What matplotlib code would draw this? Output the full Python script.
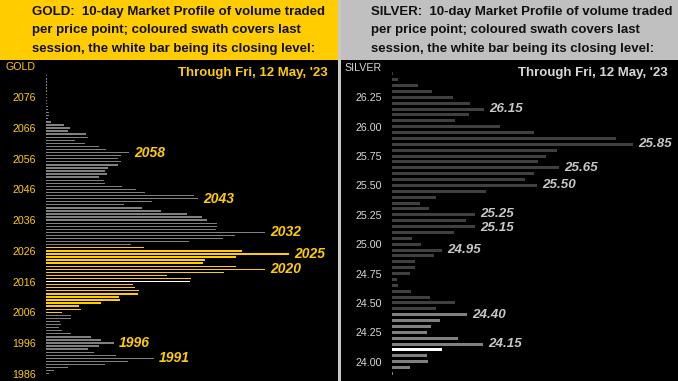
import matplotlib
matplotlib.use("Agg")
import matplotlib.pyplot as plt
from matplotlib.patches import Rectangle

# ---------------- data ----------------
gold_prices = list(range(2083, 1985, -1))
gold_volume = [0.7, 0.7, 0.7, 0.7, 0.7, 0.7, 0.7, 0.7, 0.7, 0.7,      # 2083-2074
               1.7, 2.3, 2.7, 2.7, 1.7, 4.7, 17.7, 23.7, 21.7, 39.7,    # 2073-2064
               41.7, 28.7, 38.7, 52.7, 59.7, 82.7, 74.7, 71.7, 74.7, 72,  # 2063-2054
               61.7, 59, 61, 53, 58, 59, 76, 89.7, 98.7, 147.7,         # 2053-2044
               151.7, 105.7, 78, 95.7, 114.7, 140.7, 156, 160.7, 170.7, 170.7,  # 2043-2034
               169.7, 218.7, 188.7, 176.7, 142.7, 85, 97.7, 195.7, 242.7, 189.7,  # 2033-2024
               158.7, 156.7, 189.7, 218.7, 177.7, 120.7, 144.7, 143.7, 87, 88.7,  # 2023-2014
               92.7, 91.7, 73, 74, 55, 33, 35, 16, 25, 25,               # 2013-2004
               14, 15, 13, 16, 25, 45, 55, 68, 53, 42,                   # 2003-1994
               48, 70, 108, 82, 59, 22, 8, 3]                            # 1993-1986
gold_session = (2006, 2027)
gold_close = 2016
gold_labels = [2058, 2043, 2032, 2025, 2020, 1996, 1991]
gold_ticks = [1986, 1996, 2006, 2016, 2026, 2036, 2046, 2056, 2066, 2076]

silver_prices = [round(26.45 - 0.05 * i, 2) for i in range(52)]
silver_volume = [0.7, 5.7, 25.7, 39.7, 60.7, 77.7, 92, 76.7, 62.7, 107.7,
                 141.7, 223.7, 241, 164.7, 153.7, 145.7, 166.7, 141.7, 132.7, 144.7,
                 93.7, 43.7, 27.7, 36.7, 82.7, 73.7, 82.7, 61.7, 19.7, 28.7,
                 49.7, 41.7, 22.7, 22.7, 17.7, 4.7, 5.7, 18.7, 37.7, 62.7,
                 43.7, 74.7, 47.7, 38.7, 34.7, 65.7, 90.7, 49.7, 34.7, 35.7,
                 17.7, 1]
silver_session = (23.90, 24.40)
silver_close = 24.10
silver_labels = [26.15, 25.85, 25.65, 25.50, 25.25, 25.15, 24.95, 24.40, 24.15]
silver_ticks = [24.00, 24.25, 24.50, 24.75, 25.00, 25.25, 25.50, 25.75, 26.00, 26.25]

title_lines_gold = ["GOLD:  10-day Market Profile of volume traded",
                    "per price point; coloured swath covers last",
                    "session, the white bar being its closing level:"]
title_lines_silver = ["SILVER:  10-day Market Profile of volume traded",
                      "per price point; coloured swath covers last",
                      "session, the white bar being its closing level:"]
through_text = "Through Fri, 12 May, '23"

# ---------------- styling ----------------
W, H = 678, 381
GOLD = "#ffcc00"
SILV_HDR = "#c0c0c0"
FONT = "Liberation Sans"

fig = plt.figure(figsize=(W / 100, H / 100), dpi=100)
fig.patch.set_facecolor("#c8c8c8")


def frac(x, y, w, h):
    return (x / W, 1 - (y + h) / H, w / W, h / H)


def rect(x, y, w, h, color):
    l, b, ww, hh = frac(x, y, w, h)
    fig.patches.append(Rectangle((l, b), ww, hh, transform=fig.transFigure,
                                 facecolor=color, edgecolor="none", zorder=-5))


# panels
rect(0, 0, 338, 60, GOLD)
rect(0, 60, 338, 321, "black")
rect(341, 0, 337, 60, SILV_HDR)
rect(341, 60, 337, 321, "black")

# titles
for i, line in enumerate(title_lines_gold):
    fig.text(32 / W, 1 - (11.7 + 18.7 * i) / H, line, fontsize=9.5, fontweight="bold",
             family=FONT, color="#111111", va="center", ha="left")
for i, line in enumerate(title_lines_silver):
    fig.text(371 / W, 1 - (11.7 + 18.7 * i) / H, line, fontsize=9.5, fontweight="bold",
             family=FONT, color="#111111", va="center", ha="left")


def make_axes(x0, x1, ylim):
    ax = fig.add_axes(frac(x0, 60, x1 - x0, 321))
    ax.set_facecolor("none")
    ax.set_xlim(0, x1 - x0)
    ax.set_ylim(*ylim)
    for s in ax.spines.values():
        s.set_visible(False)
    ax.set_xticks([])
    return ax


# ---------------- gold ----------------
gpx = 3.071  # pixels per dollar
axg = make_axes(46, 338, (1986 - (381 - 373.7) / gpx, 2076 + (97.3 - 60) / gpx))
gcolors = []
for p in gold_prices:
    if p == gold_close:
        gcolors.append("white")
    elif gold_session[0] <= p <= gold_session[1]:
        gcolors.append(GOLD)
    else:
        gcolors.append("#808080")
axg.barh(gold_prices, gold_volume, height=0.45, left=0, color=gcolors, linewidth=0)
axg.set_yticks(gold_ticks)
axg.set_yticklabels([str(t) for t in gold_ticks], family=FONT, fontsize=7.7, color=GOLD)
axg.tick_params(axis="y", length=0, pad=7.2)
for lab in gold_labels:
    v = gold_volume[gold_prices.index(lab)]
    axg.annotate(str(lab), xy=(v, lab), xytext=(3.8, 0), textcoords="offset points",
                 fontsize=10, fontweight="bold", fontstyle="italic", family=FONT,
                 color=GOLD, va="center", ha="left")
fig.text(36 / W, 1 - 67.3 / H, "GOLD", family=FONT, fontsize=7.7, color=GOLD,
         ha="right", va="center")
fig.text(327.3 / W, 1 - 73.3 / H, through_text, family=FONT, fontsize=9.5,
         fontweight="bold", color=GOLD, ha="right", va="center")

# ---------------- silver ----------------
spx = 117.5  # pixels per dollar
axs = make_axes(392, 676, (24.00 - (381 - 361.7) / spx, 26.25 + (97.3 - 60) / spx))
scolors = []
for p in silver_prices:
    if abs(p - silver_close) < 1e-6:
        scolors.append("white")
    elif silver_session[0] - 1e-6 <= p <= silver_session[1] + 1e-6:
        scolors.append("#808080")
    else:
        scolors.append("#404040")
axs.barh(silver_prices, silver_volume, height=0.026, left=0, color=scolors, linewidth=0)
axs.set_yticks(silver_ticks)
axs.set_yticklabels([f"{t:.2f}" for t in silver_ticks], family=FONT, fontsize=7.7,
                    color="#d8d8d8")
axs.tick_params(axis="y", length=0, pad=7.2)
nudge = {25.25: 0.6, 25.15: -1.2}
for lab in silver_labels:
    idx = min(range(len(silver_prices)), key=lambda i: abs(silver_prices[i] - lab))
    v = silver_volume[idx]
    axs.annotate(f"{lab:.2f}", xy=(v, lab), xytext=(3.8, nudge.get(lab, 0)),
                 textcoords="offset points",
                 fontsize=9.6, fontweight="bold", fontstyle="italic", family=FONT,
                 color="#c8c8c8", va="center", ha="left")
fig.text(382 / W, 1 - 68.3 / H, "SILVER", family=FONT, fontsize=7.7, color="#d8d8d8",
         ha="right", va="center")
fig.text(668 / W, 1 - 73.3 / H, through_text, family=FONT, fontsize=9.5,
         fontweight="bold", color="#d8d8d8", ha="right", va="center")

fig.savefig("out.png", dpi=100, facecolor=fig.get_facecolor())
